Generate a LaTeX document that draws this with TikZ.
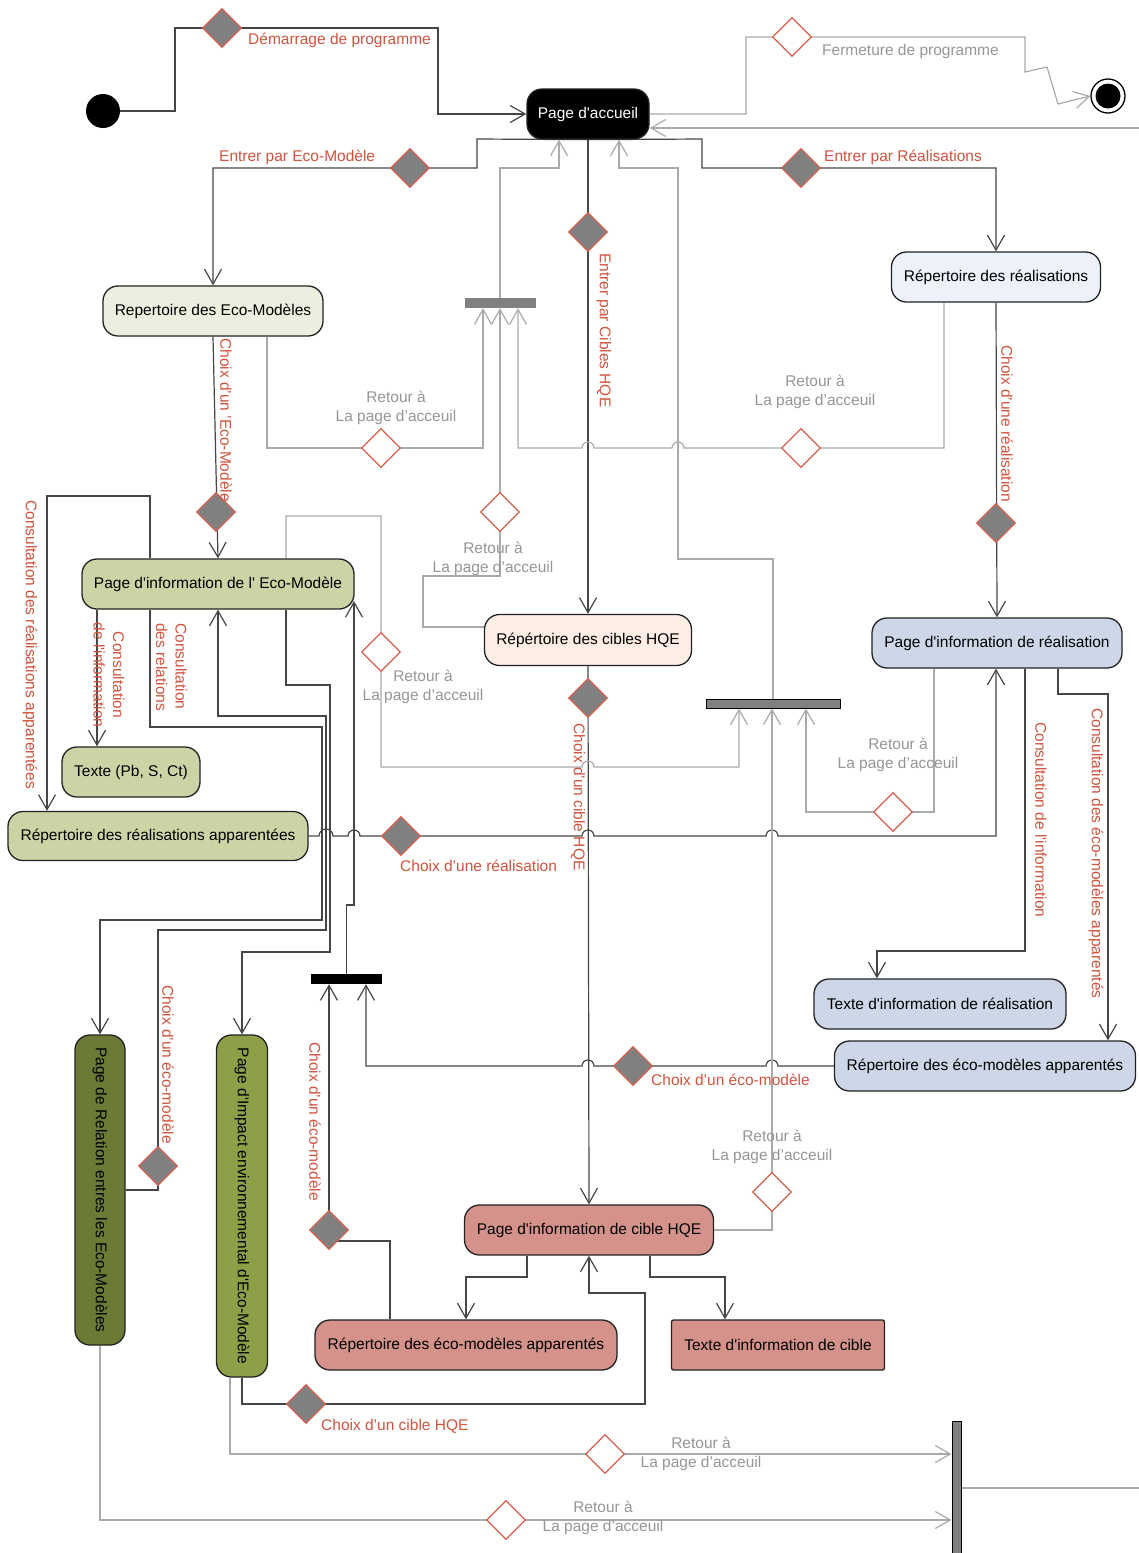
\documentclass[tikz,border=0pt]{standalone}
\usepackage{fontspec}
\setmainfont{Liberation Sans}[Ligatures=TeXOff]
\usepackage{graphicx}
\usetikzlibrary{shapes.geometric,arrows.meta}
\pgfdeclarelayer{paper}
\pgfdeclarelayer{bg}
\pgfsetlayers{paper,bg,main}
\definecolor{cRed}{RGB}{208,84,62}
\definecolor{cGrayT}{RGB}{150,150,150}
\definecolor{cLine}{RGB}{70,70,70}
\definecolor{cGrayL}{RGB}{170,170,170}
\definecolor{cBorder}{RGB}{35,35,35}
\definecolor{cDRed}{RGB}{214,96,76}
\definecolor{cGrayF}{RGB}{128,128,128}
\definecolor{cBeige}{RGB}{238,238,224}
\definecolor{cBlueL}{RGB}{237,241,249}
\definecolor{cOliveL}{RGB}{206,211,166}
\definecolor{cPeach}{RGB}{253,237,228}
\definecolor{cBlue}{RGB}{205,215,232}
\definecolor{cOliveD}{RGB}{107,122,52}
\definecolor{cOlive}{RGB}{141,160,72}
\definecolor{cPink}{RGB}{212,146,138}
\begin{document}
\begin{tikzpicture}[x=1pt,y=-1pt,font=\fontsize{15.5}{19.5}\selectfont,
  box/.style={draw=cBorder,line width=1.3pt,rounded corners=15pt,inner sep=0pt,align=center},
  dfill/.style={diamond,aspect=1,draw=cDRed,fill=cGrayF,line width=1.3pt,minimum size=39pt,inner sep=0pt},
  dempty/.style={diamond,aspect=1,draw=cDRed,fill=white,line width=1.3pt,minimum size=39pt,inner sep=0pt},
  barn/.style={rectangle,inner sep=0pt},
  dk/.style={draw=cLine,line width=1.2pt},
  gr/.style={draw=cGrayL,line width=1.2pt},
  arr/.style={-{Straight Barb[length=15pt,width=17pt]}},
  rl/.style={text=cRed,inner sep=0pt},
  gl/.style={text=cGrayT,inner sep=0pt,align=center},
  rv/.style={rl,rotate=-90,anchor=west}]
\begin{pgfonlayer}{paper}
\fill[white] (0,0) rectangle (1139,1553);
\end{pgfonlayer}
\useasboundingbox (0,0) rectangle (1139,1553);

% start / end
\node[circle,fill=black,minimum size=34pt,inner sep=0pt] (start) at (103,111) {};
\node[circle,draw=black,fill=white,line width=1.3pt,minimum size=34pt,inner sep=0pt] (end) at (1108,96) {};
\node[circle,fill=black,minimum size=25pt,inner sep=0pt] (endin) at (1108,96) {};
\coordinate (offR) at (1139,128);
\coordinate (offB) at (1139,1488);

% activity nodes
\node[box,fill=black,text=white,minimum width=122pt,minimum height=50pt] (home) at (588,114) {Page d'accueil};
\node[box,fill=cBeige,minimum width=220pt,minimum height=50pt] (repEM) at (213,311) {Repertoire des Eco-Modèles};
\node[box,fill=cBlueL,minimum width=209pt,minimum height=50pt] (repR) at (996,277) {Répertoire des réalisations};
\node[box,fill=cOliveL,minimum width=272pt,minimum height=50pt] (infoEM) at (218,584) {Page d'information de l' Eco-Modèle};
\node[box,fill=cPeach,minimum width=207pt,minimum height=51pt] (repC) at (588,640) {Répértoire des cibles HQE};
\node[box,fill=cBlue,minimum width=250pt,minimum height=50pt] (infoR) at (997,643) {Page d'information de réalisation};
\node[box,fill=cOliveL,minimum width=138pt,minimum height=50pt] (texteEM) at (131,772) {Texte (Pb, S, Ct)};
\node[box,fill=cOliveL,minimum width=300pt,minimum height=49pt] (repRA) at (158,836) {Répertoire des réalisations apparentées};
\node[box,fill=cBlue,minimum width=252pt,minimum height=50pt] (texteR) at (940,1004) {Texte d'information de réalisation};
\node[box,fill=cBlue,minimum width=301pt,minimum height=50pt] (repEMAb) at (985,1066) {Répertoire des éco-modèles apparentés};
\node[box,fill=cOliveD,minimum width=50pt,minimum height=310pt] (relEM) at (100,1190) {\rotatebox{-90}{Page de Relation entres les Eco-Modèles}};
\node[box,fill=cOlive,minimum width=51pt,minimum height=342pt] (impEM) at (242,1206) {\rotatebox{-90}{Page d'Impact environnemental d'Eco-Modèle}};
\node[box,fill=cPink,minimum width=249pt,minimum height=50pt] (infoC) at (589,1230) {Page d'information de cible HQE};
\node[box,fill=cPink,minimum width=302pt,minimum height=50pt] (repEMAp) at (466,1345) {Répertoire des éco-modèles apparentés};
\node[box,fill=cPink,rounded corners=2pt,minimum width=213pt,minimum height=50pt] (texteC) at (778,1345) {Texte d'information de cible};

% bars
\node[barn,fill=cGrayF,minimum width=71pt,minimum height=10pt] (barA) at (500,303) {};
\node[barn,fill=cGrayF,draw=black,line width=1pt,minimum width=134pt,minimum height=9pt] (barB) at (773,703.5) {};
\node[barn,fill=black,minimum width=71pt,minimum height=10pt] (barK) at (346.5,979) {};
\node[barn,fill=cGrayF,draw=black,line width=1pt,minimum width=9pt,minimum height=140pt] (vbar) at (956.5,1491) {};

% diamonds
\node[dfill] (d1) at (222,28) {};
\node[dempty] (d2) at (792,37) {};
\node[dfill] (dEM) at (410,168) {};
\node[dfill] (dR) at (801,168) {};
\node[dfill] (dC) at (588,232) {};
\node[dfill] (dchEM) at (216,512) {};
\node[dfill] (dchR) at (996,523) {};
\node[dempty] (dret1) at (381,448) {};
\node[dempty] (dret2) at (801,448) {};
\node[dempty] (dret3) at (500,512) {};
\node[dempty] (dret4) at (381,652) {};
\node[dfill] (dchC) at (588,698) {};
\node[dempty] (dret5) at (893,812) {};
\node[dfill] (dchRA) at (401,836) {};
\node[dempty] (dret6) at (772,1192) {};
\node[dfill] (dchEMb) at (633,1066) {};
\node[dfill] (dchEMr) at (158,1166) {};
\node[dfill] (dchEMp) at (329,1230) {};
\node[dfill] (dchC2) at (306,1404) {};
\node[dempty] (dret7) at (605,1454) {};
\node[dempty] (dret8) at (506,1520) {};

% labels
\node[rl,anchor=west] (l1) at (248,40) {Démarrage de programme};
\node[gl,anchor=west] (l2) at (822,51) {Fermeture de programme};
\node[rl,anchor=west] (l3) at (219,157) {Entrer par Eco-Modèle};
\node[rl,anchor=west] (l4) at (824,157) {Entrer par Réalisations};
\node[rv] (l5) at (604,253) {Entrer par Cibles HQE};
\node[rv] (l6) at (226,338) {Choix d’un ’Eco-Modèle};
\node[rv] (l7) at (1007,345) {Choix d’une réalisation};
\node[rv] (l8) at (578,723) {Choix d’un cible HQE};
\node[rv] (l9) at (30,500) {Consultation des réalisations apparentées};
\node[rl,rotate=-90,align=center] (l10) at (109,675) {Consultation\\de l'information};
\node[rl,rotate=-90,align=left,anchor=north west] (l11) at (187,623) {Consultation\\des relations};
\node[rv] (l12) at (168,985) {Choix d’un éco-modèle};
\node[rv] (l13) at (315,1042) {Choix d’un éco-modèle};
\node[rv] (l14) at (1041,722) {Consultation de l'information};
\node[rv] (l15) at (1096,708) {Consultation des éco-modèles apparentés};
\node[rl,anchor=west] (l16) at (400,866) {Choix d’une réalisation};
\node[rl,anchor=west] (l17) at (651,1080) {Choix d’un éco-modèle};
\node[rl,anchor=west] (l18) at (321,1426) {Choix d’un cible HQE};
\node[gl] (r1) at (396,408) {Retour à\\La page d’acceuil};
\node[gl] (r2) at (815,392) {Retour à\\La page d’acceuil};
\node[gl] (r3) at (493,559) {Retour à\\La page d’acceuil};
\node[gl] (r4) at (423,687) {Retour à\\La page d’acceuil};
\node[gl] (r5) at (898,755) {Retour à\\La page d’acceuil};
\node[gl] (r6) at (772,1147) {Retour à\\La page d’acceuil};
\node[gl] (r7) at (701,1454) {Retour à\\La page d’acceuil};
\node[gl] (r8) at (603,1518) {Retour à\\La page d’acceuil};

\begin{pgfonlayer}{bg}
% dark connectors
\draw[dk,arr] (start.east) -| (175,28) -- (438,28) -- (438,114) -- (home.west);
\draw[dk,arr] (home.south) -- (477,139) -- (477,168) -- (213,168) -- (repEM.north);
\draw[dk,arr] (home.south) -- (702,139) -- (702,168) -- (996,168) -- (repR.north);
\draw[dk,arr] (home.south) -- (repC.north);
\draw[dk,arr] (repEM.south) -- (infoEM.north);
\draw[dk,arr] (repR.south) -- (infoR.north);
\draw[dk,arr] (repC.south) -- (infoC.north);
\draw[dk,arr] (infoEM.south -| 97,0) -- (97,0 |- texteEM.north);
\draw[dk,arr] (infoEM.north -| 150,0) -- (150,496) -- (47,496) -- (47,0 |- repRA.north);
\draw[dk,arr] (infoEM.south -| 150,0) -- (150,727) -- (322,727) -- (322,920) -- (100,920) -- (relEM.north);
\draw[dk,arr] (relEM.east) -- (158,1190) -- (158,930) -- (326,930) -- (326,716) -- (218,716) -- (infoEM.south);
\draw[dk,arr] (infoEM.south -| 286,0) -- (286,685) -- (330,685) -- (330,952) -- (242,952) -- (impEM.north);
\draw[dk,arr] (barK.north) -- (346.5,905) -- (354,905) -- (354,601);
\draw[dk,arr] (repRA.east) -- (319,836) arc[start angle=180,end angle=0,radius=7pt] -- (348,836) arc[start angle=180,end angle=0,radius=6pt] -- (582,836) arc[start angle=180,end angle=0,radius=6pt] -- (766,836) arc[start angle=180,end angle=0,radius=6pt] -- (996,836) -- (infoR.south -| 996,0);
\draw[dk,arr] (infoR.south -| 1025,0) -- (1025,951) -- (877,951) -- (877,0 |- texteR.north);
\draw[dk,arr] (infoR.south -| 1058,0) -- (1058,694) -- (1108,694) -- (1108,0 |- repEMAb.north);
\draw[dk,arr] (repEMAb.west) -- (778,1066) arc[start angle=0,end angle=180,radius=6pt] -- (594,1066) arc[start angle=0,end angle=180,radius=6pt] -- (366,1066) -- (366,0 |- barK.south);
\draw[dk,arr] (repEMAp.north -| 390,0) -- (390,1241) -- (329,1241) -- (329,0 |- barK.south);
\draw[dk,arr] (infoC.south -| 527,0) -- (527,1277) -- (466,1277) -- (repEMAp.north);
\draw[dk,arr] (infoC.south -| 650,0) -- (650,1277) -- (725,1277) -- (725,0 |- texteC.north);
\draw[dk,arr] (impEM.south) -- (242,1404) -- (645,1404) -- (645,1293) -- (589,1293) -- (infoC.south);
% gray connectors
\draw[gr,arr] (home.east) -- (746,114) -- (746,37) -- (1025,37) -- (1025,72) -- (1047,67) -- (1058,104) -- (end.west);
\draw[gr,arr] (offR) -- (home.east |- offR);
\draw[gr,arr] (barA.north) -- (500,168) -- (559,168) -- (559,0 |- home.south);
\draw[gr,arr] (barB.north) -- (773,559) -- (678,559) -- (678,168) -- (619,168) -- (619,0 |- home.south);
\draw[gr,arr] (repEM.south -| 267,0) -- (267,448) -- (483,448) -- (483,0 |- barA.south);
\draw[gr,arr] (repR.south -| 944,0) -- (944,448) -- (684,448) arc[start angle=0,end angle=180,radius=6pt] -- (594,448) arc[start angle=0,end angle=180,radius=6pt] -- (518,448) -- (518,0 |- barA.south);
\draw[gr,arr] (repC.west |- 0,627) -- (423,627) -- (423,576) -- (500,576) -- (barA.south);
\draw[gr,arr] (infoEM.north -| 286,0) -- (286,516) -- (381,516) -- (381,767) -- (582,767) arc[start angle=180,end angle=0,radius=6pt] -- (739,767) -- (739,0 |- barB.south);
\draw[gr,arr] (infoR.south -| 934,0) -- (934,812) -- (806,812) -- (806,0 |- barB.south);
\draw[gr,arr] (infoC.east) -- (772,1230) -- (772,0 |- barB.south);
\draw[gr,arr] (impEM.south -| 230,0) -- (230,1454) -- (vbar.west |- 0,1454);
\draw[gr,arr] (relEM.south) -- (100,1520) -- (vbar.west |- 0,1520);
\draw[gr] (vbar.east |- offB) -- (offB);
\end{pgfonlayer}
\end{tikzpicture}
\end{document}
